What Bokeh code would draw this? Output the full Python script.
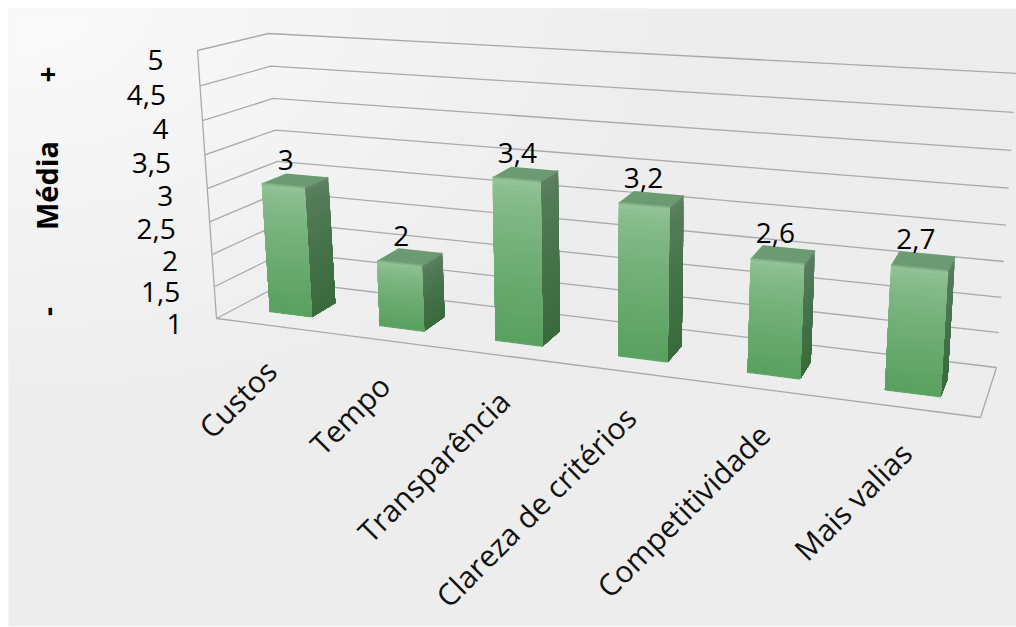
from bokeh.plotting import figure
from bokeh.embed import file_html
from bokeh.resources import INLINE
from bokeh.models import ColumnDataSource
from bokeh.core.properties import value
import math

categories = ["Custos", "Tempo", "Transparência", "Clareza de critérios", "Competitividade", "Mais valias"]
means = [3.0, 2.0, 3.4, 3.2, 2.6, 2.7]
mean_labels = ["3", "2", "3,4", "3,2", "2,6", "2,7"]
tick_values = [1, 1.5, 2, 2.5, 3, 3.5, 4, 4.5, 5]
tick_labels = ["1", "1,5", "2", "2,5", "3", "3,5", "4", "4,5", "5"]

W, H = 1016, 627
FONT = "Open Sans"

# Corners of the 3D box: (category position, depth) -> (floor point, top point)
BOX = {
    (0, 0): ((216, 318), (197, 50)),
    (0, 1): ((286, 281), (268, 33)),
    (1, 1): ((996, 367), (1016, 73)),
    (1, 0): ((980, 417), (1000, 100)),
}
PERSP_U = 0.845
PERSP_V = 0.94
BAR_HALF = 0.0325
DEPTH = (0.30, 0.66)


def project(u, v, d):
    """Perspective projection of (category fraction, mean, depth) to canvas."""
    a = u * PERSP_U / ((1 - u) + u * PERSP_U)
    t = (v - 1) / 4
    b = t * PERSP_V / ((1 - t) + t * PERSP_V)
    pts = []
    for level in (0, 1):
        f0 = [BOX[(0, 0)][level][i] * (1 - a) + BOX[(1, 0)][level][i] * a for i in (0, 1)]
        f1 = [BOX[(0, 1)][level][i] * (1 - a) + BOX[(1, 1)][level][i] * a for i in (0, 1)]
        pts.append([f0[i] * (1 - d) + f1[i] * d for i in (0, 1)])
    return tuple(pts[0][i] * (1 - b) + pts[1][i] * b for i in (0, 1))


def mix(c0, c1, f):
    return "#%02x%02x%02x" % tuple(round(c0[i] + (c1[i] - c0[i]) * f) for i in range(3))


def quad(*corners):
    return [c[0] for c in corners], [c[1] for c in corners]


p = figure(width=W, height=H, x_range=(0, W), y_range=(H, 0), output_backend="svg",
           toolbar_location=None, min_border=0, outline_line_color=None,
           background_fill_color="white", border_fill_color="white")
p.axis.visible = False
p.grid.visible = False

# Panel with a soft light corner at the upper left
L, T = 8, 8
p.quad(left=[L], right=[W], top=[T], bottom=[H - 1], fill_color="#ededed", line_color=None)
shades = [0xee, 0xef, 0xf0, 0xf1, 0xf2, 0xf3, 0xf4, 0xf5, 0xf6, 0xf7, 0xf8, 0xf9]
for i, s in enumerate(shades):
    rx, ry = 640 - i * 50, 380 - i * 30
    xs = [L] + [L + rx * math.cos(k * math.pi / 60) for k in range(31)]
    ys = [T] + [T + ry * math.sin(k * math.pi / 60) for k in range(31)]
    p.patch(xs, ys, fill_color="#%02x%02x%02x" % (s, s, s), line_color=None)

# Gridlines on the side wall and the back wall, then the floor outline
GRID = "#a9a9a9"
for v in tick_values:
    a, b, c = project(0, v, 0), project(0, v, 1), project(1, v, 1)
    p.line([a[0], b[0], c[0]], [a[1], b[1], c[1]], line_color=GRID, line_width=1.3)
e0, e1 = project(0, 1, 0), project(0, 5, 0)
p.line([e0[0], e1[0]], [e0[1], e1[1]], line_color=GRID, line_width=1.3)
f0, f1, f2 = project(0, 1, 0), project(1, 1, 0), project(1, 1, 1)
p.line([f0[0], f1[0], f2[0]], [f0[1], f1[1], f2[1]], line_color=GRID, line_width=1.3)

# Bars: each face is a stack of shaded bands, painted from the top downwards
FRONT_TOP, FRONT_BOTTOM = (146, 194, 150), (88, 160, 94)
SIDE_TOP, SIDE_BOTTOM = (92, 128, 96), (56, 106, 60)
TOP_FACE = "#6c9a72"
BANDS = 28
d0, d1 = DEPTH
for i, val in enumerate(means):
    c = (i + 0.5) / len(means)
    u0, u1 = c - BAR_HALF, c + BAR_HALF
    xs, ys, colors = [], [], []
    for k in range(BANDS):
        f = k / BANDS
        v = val + (1 - val) * f
        g = f ** 0.7
        x, y = quad(project(u1, v, d0), project(u1, v, d1), project(u1, 1, d1), project(u1, 1, d0))
        xs.append(x); ys.append(y); colors.append(mix(SIDE_TOP, SIDE_BOTTOM, g))
    for k in range(BANDS):
        f = k / BANDS
        v = val + (1 - val) * f
        g = f ** 0.7
        x, y = quad(project(u0, v, d0), project(u1, v, d0), project(u1, 1, d0), project(u0, 1, d0))
        xs.append(x); ys.append(y); colors.append(mix(FRONT_TOP, FRONT_BOTTOM, g))
    x, y = quad(project(u0, val, d0), project(u0, val, d1), project(u1, val, d1), project(u1, val, d0))
    xs.append(x); ys.append(y); colors.append(TOP_FACE)
    p.patches(xs="xs", ys="ys", fill_color="colors", line_color=None,
              source=ColumnDataSource(dict(xs=xs, ys=ys, colors=colors)))
    # Soft bevel along the edges of the box
    a, b = project(u0, val, d0), project(u1, val, d0)
    p.line([a[0], b[0]], [a[1], b[1]], line_color="#7fb086", line_width=2, line_alpha=0.8)
    a2, b2 = project(u1, val, d1), project(u1, 1, d0)
    p.line([b[0], a2[0]], [b[1], a2[1]], line_color="#6d9373", line_width=2, line_alpha=0.7)
    g0, g1 = project(u0, 1, d0), project(u1, 1, d0)
    p.line([g0[0], g1[0]], [g0[1], g1[1]], line_color="#63a869", line_width=1.5, line_alpha=0.8)

# Mean axis labels beside the front edge of the side wall
tx, ty = [], []
for v in tick_values:
    x, y = project(0, v, 0)
    tx.append(x - 34)
    ty.append(y + 5 + (v - 1) * 1.2)
p.text(tx, ty, text=tick_labels, text_font=value(FONT), text_font_size="28px",
       text_align="right", text_baseline="middle", text_color="black")

# Values above the bars
vx, vy = [], []
for i, val in enumerate(means):
    c = (i + 0.5) / len(means)
    x, y = project(c, val, 0.6)
    vx.append(x - 18 + 9 * c)
    vy.append(y - 17)
p.text(vx, vy, text=mean_labels, text_font=value(FONT), text_font_size="28px",
       text_align="center", text_baseline="middle", text_color="black")

# Category names, slanted, ending below the floor edge
cx, cy = [], []
for i in range(len(categories)):
    x, y = project((i + 0.5) / len(categories), 1, 0)
    cx.append(x)
    cy.append(y + 40)
p.text(cx, cy, text=categories, angle=0.785, text_font=value(FONT), text_font_size="30px",
       text_align="right", text_baseline="middle", text_color="#111111")

# Axis title with its low and high markers, all set sideways
p.text([46], [185], text=["Média"], angle=1.5708, text_font=value(FONT), text_font_style="bold",
       text_font_size="29px", text_align="center", text_baseline="middle", text_color="black")
p.text([47, 47], [74, 311], text=["+", "-"], angle=1.5708, text_font=value(FONT), text_font_style="bold",
       text_font_size="28px", text_align="center", text_baseline="middle", text_color="black")

open("out.html", "w").write(file_html(p, INLINE))
